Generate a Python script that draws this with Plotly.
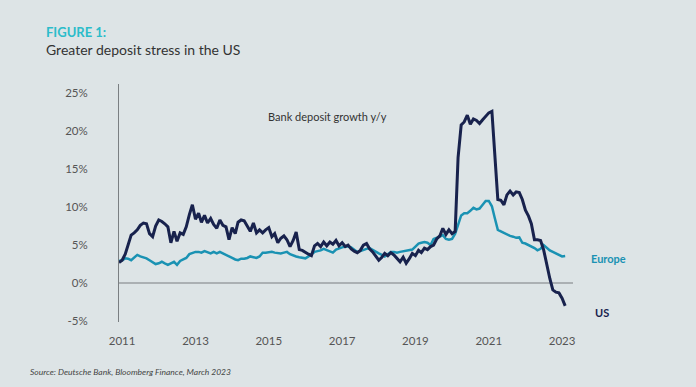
import plotly.graph_objects as go
import pandas as pd

start_month = "2010-12-01"

us_growth = [
    2.7, 3.0, 3.8, 5.0, 6.3, 6.6, 7.0, 7.6, 7.9, 7.8, 6.5, 6.1,
    7.5, 8.3, 8.1, 7.8, 7.4, 5.3, 6.8, 5.5, 6.6, 6.4, 7.4, 9.0,
    10.3, 8.4, 9.2, 8.0, 8.9, 7.9, 8.5, 7.7, 7.2, 8.3, 7.6, 7.4,
    5.7, 7.3, 6.5, 8.0, 8.3, 8.2, 7.4, 6.8, 7.9, 6.6, 7.0, 6.6,
    7.0, 7.3, 6.1, 6.5, 5.3, 5.9, 6.2, 5.7, 4.8, 5.6, 6.7, 4.4,
    4.3, 4.1, 3.8, 3.6, 4.9, 5.2, 4.8, 5.4, 4.9, 5.4, 5.1, 5.6,
    4.9, 5.3, 4.8, 5.0, 4.5, 4.2, 4.0, 4.3, 5.0, 5.2, 4.5, 4.1,
    3.5, 3.0, 3.4, 3.9, 3.6, 4.0, 3.7, 3.3, 2.8, 3.4, 2.6, 3.2,
    3.9, 3.6, 4.3, 4.0, 4.6, 4.4, 4.8, 5.0, 5.8, 6.2, 7.2, 6.4,
    7.0, 6.5, 6.8, 16.5, 20.8, 21.2, 22.1, 20.9, 21.6, 21.4, 21.0, 21.5,
    22.0, 22.4, 22.6, 17.5, 11.0, 10.9, 10.3, 11.6, 12.1, 11.6, 12.0, 11.9,
    11.0, 9.6, 8.8, 7.8, 5.7, 5.7, 5.6, 4.4, 2.4, 0.6, -0.9, -1.2,
    -1.3, -2.0, -3.0,
]

europe_growth = [
    2.9, 3.0, 3.25, 3.2, 3.0, 3.4, 3.7, 3.5, 3.4, 3.25, 3.0, 2.7,
    2.5, 2.6, 2.8, 2.6, 2.4, 2.6, 2.8, 2.4, 2.9, 3.1, 3.3, 3.8,
    4.0, 4.1, 4.1, 4.0, 4.2, 4.0, 3.9, 4.1, 3.9, 4.1, 3.9, 3.7,
    3.4, 3.3, 3.1, 3.0, 3.2, 3.2, 3.3, 3.5, 3.4, 3.3, 3.5, 4.0,
    4.0, 4.1, 4.1, 4.0, 3.9, 3.9, 4.0, 4.1, 3.8, 3.6, 3.5, 3.4,
    3.3, 3.25, 3.5, 3.8, 4.1, 4.2, 4.3, 4.5, 4.3, 4.1, 4.0, 4.4,
    4.6, 4.7, 4.8, 4.8, 4.7, 4.4, 4.1, 4.2, 4.4, 4.5, 4.6, 4.4,
    4.2, 3.9, 3.7, 3.5, 3.8, 4.1, 4.1, 4.0, 4.1, 4.2, 4.2, 4.3,
    4.4, 4.8, 5.2, 5.3, 5.4, 5.3, 5.0, 5.8, 5.9, 6.1, 6.3, 5.8,
    5.7, 5.8, 6.5, 7.6, 8.9, 9.2, 9.2, 9.5, 9.9, 9.7, 9.8, 10.3,
    10.8, 10.8, 10.1, 8.6, 7.0, 6.8, 6.6, 6.3, 6.2, 6.1, 5.95, 6.0,
    5.3, 5.2, 5.0, 4.9, 4.6, 4.3, 4.5, 5.0, 4.6, 4.3, 4.1, 3.9,
    3.7, 3.5, 3.55,
]

tick_years = ["2011", "2013", "2015", "2017", "2019", "2021", "2023"]
y_ticks = [-5, 0, 5, 10, 15, 20, 25]
y_tick_labels = ["-5%", "0%", "5%", "10%", "15%", "20%", "25%"]

dates = pd.date_range(start_month, periods=len(us_growth), freq="MS")

NAVY = "#18224d"
TEAL = "#1a92b3"
BG = "#dde4e6"
FONT = "Lato"

W, H = 696, 387
ML, MR, MT, MB = 119, 123, 84, 65
PW, PH = W - ML - MR, H - MT - MB


def px(x):
    return (x - ML) / PW


def py(y):
    return (H - MB - y) / PH


fig = go.Figure()
fig.add_trace(go.Scatter(x=dates, y=europe_growth, mode="lines",
                         line=dict(color=TEAL, width=2.5), name="Europe"))
fig.add_trace(go.Scatter(x=dates, y=us_growth, mode="lines",
                         line=dict(color=NAVY, width=3), name="US"))

fig.add_shape(type="line", xref="paper", yref="y", x0=0, x1=1, y0=0, y1=0,
              line=dict(color="#9a9fa2", width=1.5), layer="below")

fig.update_layout(
    width=W, height=H,
    paper_bgcolor=BG, plot_bgcolor=BG,
    margin=dict(l=ML, r=MR, t=MT, b=MB),
    showlegend=False,
    font=dict(family=FONT, color="#555"),
    xaxis=dict(
        type="date",
        range=["2010-12-01", "2023-04-20"],
        tickvals=[f"{y}-01-01" for y in tick_years],
        ticktext=tick_years,
        showgrid=False, zeroline=False, showline=False,
        ticks="", ticklabelstandoff=10,
        tickfont=dict(size=11.5, color="#555", family=FONT),
    ),
    yaxis=dict(
        range=[-5.13, 26.2],
        tickvals=y_ticks, ticktext=y_tick_labels,
        showgrid=False, zeroline=False,
        showline=True, linecolor="#7a7f82", linewidth=1,
        ticks="", ticklabelstandoff=28,
        tickfont=dict(size=11.5, color="#555", family=FONT),
    ),
)

fig.add_annotation(xref="paper", yref="paper", x=px(44), y=py(32),
                   xanchor="left", yanchor="middle", showarrow=False,
                   text="<b>FIGURE 1:</b>",
                   font=dict(size=13, color="#2bbcca", family=FONT))
fig.add_annotation(xref="paper", yref="paper", x=px(44), y=py(49),
                   xanchor="left", yanchor="middle", showarrow=False,
                   text="Greater deposit stress in the US",
                   font=dict(size=14, color="#333", family=FONT))
fig.add_annotation(xref="paper", yref="paper", x=px(327), y=py(117),
                   xanchor="center", yanchor="middle", showarrow=False,
                   text="Bank deposit growth y/y",
                   font=dict(size=11, color="#333", family=FONT))
fig.add_annotation(xref="paper", yref="paper", x=px(589), y=py(258),
                   xanchor="left", yanchor="middle", showarrow=False,
                   text="<b>Europe</b>",
                   font=dict(size=11, color=TEAL, family=FONT))
fig.add_annotation(xref="paper", yref="paper", x=px(593), y=py(312),
                   xanchor="left", yanchor="middle", showarrow=False,
                   text="<b>US</b>",
                   font=dict(size=11, color=NAVY, family=FONT))
fig.add_annotation(xref="paper", yref="paper", x=px(28), y=py(372),
                   xanchor="left", yanchor="middle", showarrow=False,
                   text="<i>Source: Deutsche Bank, Bloomberg Finance, March 2023</i>",
                   font=dict(size=8.5, color="#444", family=FONT))

fig.write_html("out.html", config={"displayModeBar": False},
               post_script="document.body.style.margin='0';")
